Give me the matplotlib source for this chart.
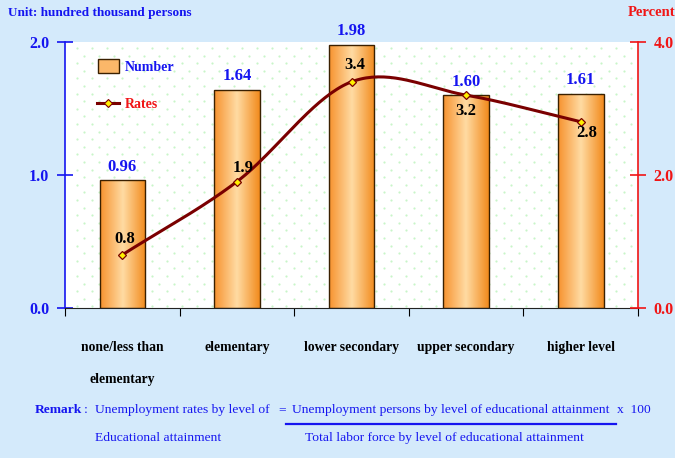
import numpy as np
import matplotlib.pyplot as plt
from matplotlib.colors import LinearSegmentedColormap
from matplotlib.lines import Line2D
from matplotlib.patches import Rectangle

categories = ['none/less than\n\nelementary', 'elementary', 'lower secondary',
              'upper secondary', 'higher level']
persons = [0.96, 1.64, 1.98, 1.60, 1.61]     # hundred thousand persons
rates = [0.8, 1.9, 3.4, 3.2, 2.8]            # percent
bar_labels = ['0.96', '1.64', '1.98', '1.60', '1.61']
rate_labels = ['0.8', '1.9', '3.4', '3.2', '2.8']

BG = '#D4EAFB'
BLUE = '#1515F0'
RED = '#F01515'
LINE = '#7A0000'
SERIF = ['Liberation Serif', 'DejaVu Serif']


def catmull_rom(x, y, n=40):
    # smooth line through the points (like a spreadsheet "smoothed line")
    px = np.concatenate([[2*x[0]-x[1]], x, [2*x[-1]-x[-2]]])
    py = np.concatenate([[2*y[0]-y[1]], y, [2*y[-1]-y[-2]]])
    xs, ys = [], []
    t = np.linspace(0, 1, n)
    for i in range(1, len(px)-2):
        for p, out in ((px, xs), (py, ys)):
            p0, p1, p2, p3 = p[i-1], p[i], p[i+1], p[i+2]
            out.extend(0.5*((2*p1) + (-p0+p2)*t + (2*p0-5*p1+4*p2-p3)*t**2
                            + (-p0+3*p1-3*p2+p3)*t**3))
    return np.array(xs), np.array(ys)


fig = plt.figure(figsize=(6.75, 4.58), dpi=100, facecolor=BG)
ax = fig.add_axes([0.0965, 0.3275, 0.8485, 0.581])
ax.set_facecolor('white')
ax2 = ax.twinx()

# staggered dot pattern in the background
dx, dy = 15.0/573, 7.6/266
pts = []
for r, yy in enumerate(np.arange(0.006, 1.0, dy)):
    for xx in np.arange(0.02 + (dx/2 if r % 2 else 0), 0.995, dx):
        pts.append((xx, yy))
pts = np.array(pts)
ax.scatter(pts[:, 0], pts[:, 1], s=2.5, color='#C8F5C8', lw=0,
           transform=ax.transAxes, zorder=0)

x = np.arange(len(categories))
bars = ax.bar(x, persons, width=0.4, color='none', edgecolor='#3A2000',
              lw=1.0, zorder=3)
cmap = LinearSegmentedColormap.from_list(
    'orange', [(0, '#F7922E'), (0.5, '#FFDBA3'), (1, '#F28A1C')])
grad = np.linspace(0, 1, 256).reshape(1, -1)
for b in bars:
    bx, by = b.get_x(), b.get_y()
    im = ax.imshow(grad, cmap=cmap, aspect='auto', zorder=2,
                   extent=[bx, bx+b.get_width(), by, by+b.get_height()])
    im.set_clip_path(b)
for xi, v, lab in zip(x, persons, bar_labels):
    ax.text(xi, v+0.1, lab, ha='center', va='center', color=BLUE,
            fontsize=12, fontweight='bold', family=SERIF)

ax.set_xlim(-0.5, 4.5)
ax.set_ylim(0, 2.0)
ax.set_yticks([0, 1.0, 2.0], ['0.0', '1.0', '2.0'])
ax.tick_params(axis='y', direction='inout', length=11, width=1.2, colors=BLUE,
               labelsize=11.5, pad=6)
for t in ax.get_yticklabels():
    t.set_fontweight('bold')
    t.set_family(SERIF)
ax.set_xticks(np.arange(-0.5, 5, 1.0))
ax.set_xticklabels([])
ax.set_xticks(x, minor=True)
ax.set_xticklabels(categories, minor=True, fontsize=9.8, fontweight='bold',
                   family=SERIF, linespacing=1.3)
ax.tick_params(axis='x', which='major', direction='out', length=6, width=0.8,
               color='black')
ax.tick_params(axis='x', which='minor', length=0, pad=24)
ax.spines['left'].set_color(BLUE)
ax.spines['left'].set_linewidth(1.2)
ax.spines['bottom'].set_color('#222222')
ax.spines['top'].set_visible(False)
ax.spines['right'].set_visible(False)

# rates line
sx, sy = catmull_rom(x.astype(float), np.array(rates))
ax2.plot(sx, sy, color=LINE, lw=2.2, zorder=5)
ax2.plot(x, rates, ls='none', marker='D', ms=4.5, mfc='#FFF000', mec=LINE,
         mew=0.9, zorder=6)
offsets = [(0.02, 0.23), (0.05, 0.21), (0.03, 0.26), (0.0, -0.24), (0.05, -0.17)]
for xi, v, lab, (ox, oy) in zip(x, rates, rate_labels, offsets):
    ax2.text(xi+ox, v+oy, lab, ha='center', va='center', color='black',
             fontsize=12, fontweight='bold', family=SERIF, zorder=7)
ax2.set_ylim(0, 4.0)
ax2.set_yticks([0, 2.0, 4.0], ['0.0', '2.0', '4.0'])
ax2.tick_params(axis='y', direction='inout', length=11, width=1.2, colors=RED,
                labelsize=11.5, pad=6)
for t in ax2.get_yticklabels():
    t.set_fontweight('bold')
    t.set_family(SERIF)
for side in ('left', 'top', 'bottom'):
    ax2.spines[side].set_visible(False)
ax2.spines['right'].set_color(RED)
ax2.spines['right'].set_linewidth(1.2)

# legend
ax.add_patch(Rectangle((0.058, 0.885), 0.036, 0.05, transform=ax.transAxes,
                       facecolor='#FBB769', edgecolor='#3A2000', lw=1, zorder=8))
ax.text(0.104, 0.905, 'Number', transform=ax.transAxes, va='center',
        color=BLUE, fontsize=10, fontweight='bold', family=SERIF)
ax.add_line(Line2D([0.055, 0.094], [0.77, 0.77], transform=ax.transAxes,
                   color=LINE, lw=2.2, zorder=8))
ax.plot([0.0745], [0.77], transform=ax.transAxes, marker='D', ms=4, mfc='#FFF000',
        mec=LINE, mew=0.8, zorder=9)
ax.text(0.104, 0.765, 'Rates', transform=ax.transAxes, va='center',
        color=RED, fontsize=10, fontweight='bold', family=SERIF)

# header texts
fig.text(8/675, 1-13/458, 'Unit: hundred thousand persons', color=BLUE,
         fontsize=9.5, fontweight='bold', family=SERIF, va='center')
fig.text(1.0, 1-13/458, 'Percent', color=RED, fontsize=10.5,
         fontweight='bold', family=SERIF, va='center', ha='right')

# remark
fs = 9.7
y1, y2 = 1-410/458, 1-438/458
fig.text(35/675, y1, 'Remark', color=BLUE, fontsize=fs, fontweight='bold',
         family=SERIF, va='center')
fig.text(84/675, y1, ':', color=BLUE, fontsize=fs, family=SERIF, va='center')
fig.text(95/675, y1, 'Unemployment rates by level of', color=BLUE,
         fontsize=fs, family=SERIF, va='center')
fig.text(278/675, y1, '=', color=BLUE, fontsize=fs, family=SERIF, va='center')
fig.text(292/675, y1, 'Unemployment persons by level of educational attainment',
         color=BLUE, fontsize=fs, family=SERIF, va='center')
fig.text(617/675, y1, 'x  100', color=BLUE, fontsize=fs, family=SERIF,
         va='center')
fig.text(95/675, y2, 'Educational attainment', color=BLUE, fontsize=fs,
         family=SERIF, va='center')
fig.text(305/675, y2, 'Total labor force by level of educational attainment',
         color=BLUE, fontsize=fs, family=SERIF, va='center')
fig.add_artist(Line2D([286/675, 616/675], [1-424/458, 1-424/458], color=BLUE,
                      lw=1.6))

fig.savefig('out.png', dpi=100, facecolor=BG)
